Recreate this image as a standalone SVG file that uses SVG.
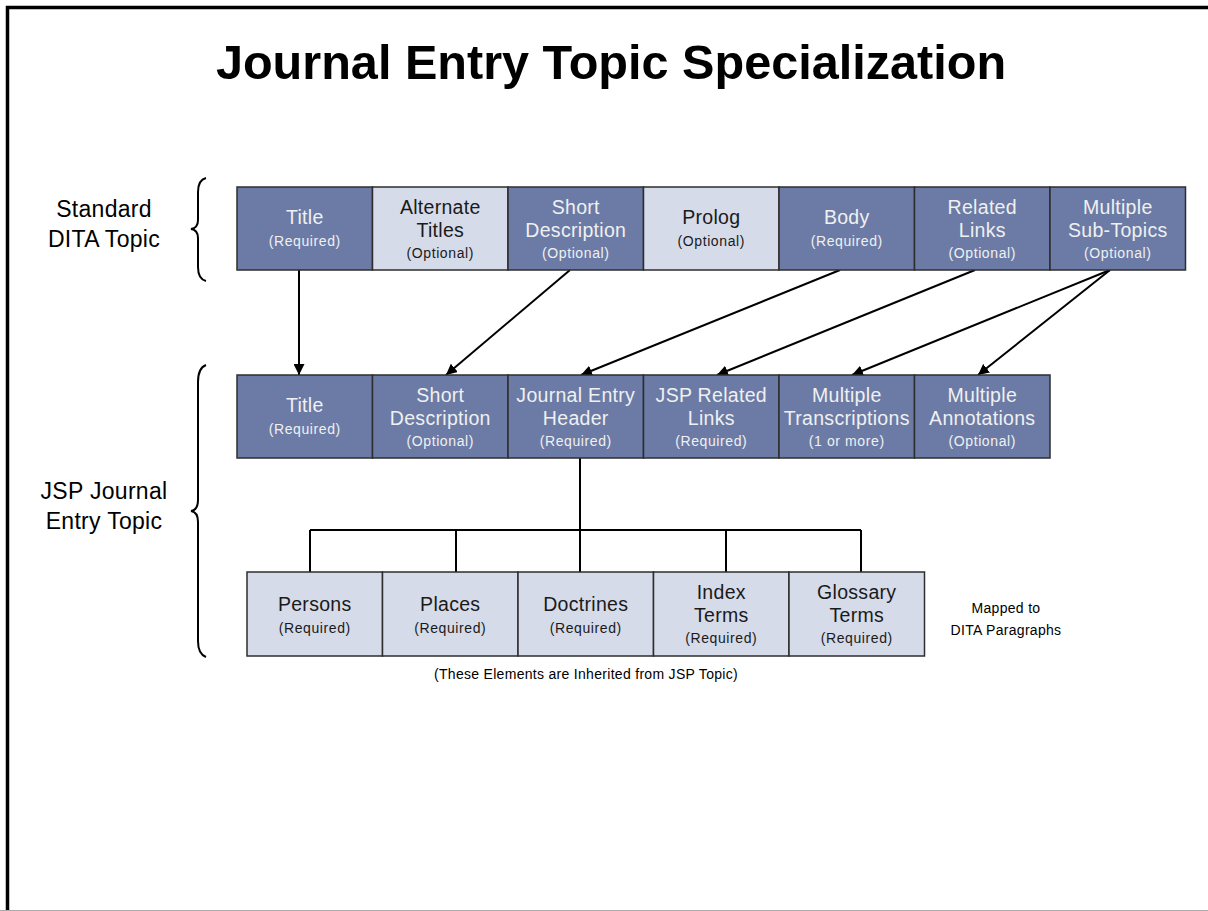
<svg xmlns="http://www.w3.org/2000/svg" width="1208" height="911" viewBox="0 0 1208 911">
  <defs>
    <marker id="arrow" viewBox="0 0 10 10" refX="10" refY="5" markerWidth="5.5" markerHeight="5.5" orient="auto" markerUnits="strokeWidth">
      <path d="M0,0 L10,5 L0,10 z" fill="#000"/>
    </marker>
  </defs>
  <style>
    .dark { fill: #6b7ba6; stroke: #2e2e2e; stroke-width: 1.5; }
    .light { fill: #d6dbe9; stroke: #2e2e2e; stroke-width: 1.5; }
    text { font-family: "Liberation Sans", Arial, sans-serif; text-anchor: middle; }
    .main { font-size: 19.5px; letter-spacing: 0.3px; }
    .sub { font-size: 14px; letter-spacing: 0.6px; }
    .on-dark { fill: #f0f0f0; }
    .on-light { fill: #1a1a1a; }
    .side { font-size: 23px; fill: #000; letter-spacing: 0.3px; }
    .note { font-size: 14px; fill: #000; letter-spacing: 0.3px; }
    .conn { fill: none; stroke: #000; stroke-width: 2; }
    .brace { fill: none; stroke: #000; stroke-width: 2; }
  </style>

  <rect width="1208" height="911" fill="#fff"/>
  <!-- slide frame -->
  <path d="M1212 7.5 H7.5 V912" fill="none" stroke="#000" stroke-width="3.5"/>
  <line x1="0" y1="910.5" x2="1208" y2="910.5" stroke="#aaa" stroke-width="1"/>

  <text x="611" y="79" style="font-size:48.6px;font-weight:bold;fill:#000">Journal Entry Topic Specialization</text>

  <!-- side labels and braces -->
  <g id="label-standard">
    <text class="side" x="104" y="217">Standard</text>
    <text class="side" x="104" y="247">DITA Topic</text>
    <path class="brace" d="M206,178 Q198,180 198,192 L198,220 Q198,228 191,229 Q198,230 198,238 L198,267 Q198,279 206,281"/>
  </g>
  <g id="label-jsp">
    <text class="side" x="104" y="499">JSP Journal</text>
    <text class="side" x="104" y="529">Entry Topic</text>
    <path class="brace" d="M206,365 Q198,368 198,382 L198,500 Q198,510 191,511 Q198,512 198,522 L198,641 Q198,654 206,657"/>
  </g>

  <!-- connectors -->
  <g id="connectors">
    <line class="conn" x1="299" y1="270" x2="299" y2="375" marker-end="url(#arrow)"/>
    <line class="conn" x1="570" y1="270" x2="446" y2="375" marker-end="url(#arrow)"/>
    <line class="conn" x1="840" y1="270" x2="581" y2="375" marker-end="url(#arrow)"/>
    <line class="conn" x1="975" y1="270" x2="717" y2="375" marker-end="url(#arrow)"/>
    <line class="conn" x1="1110" y1="270" x2="852" y2="375" marker-end="url(#arrow)"/>
    <line class="conn" x1="1110" y1="270" x2="978" y2="375" marker-end="url(#arrow)"/>
    <path class="conn" d="M580,458 V530 M310,530 H861 M310,530 V572 M456,530 V572 M580,530 V572 M726,530 V572 M861,530 V572"/>
  </g>

  <!-- Standard DITA Topic row -->
  <g id="std-title">
    <rect class="dark" x="237" y="187" width="135.5" height="83"/>
    <text class="main on-dark" x="304.75" y="224">Title</text>
    <text class="sub on-dark" x="304.75" y="246">(Required)</text>
  </g>
  <g id="std-alt-titles">
    <rect class="light" x="372.5" y="187" width="135.5" height="83"/>
    <text class="main on-light" x="440.25" y="214">Alternate</text>
    <text class="main on-light" x="440.25" y="237">Titles</text>
    <text class="sub on-light" x="440.25" y="258">(Optional)</text>
  </g>
  <g id="std-shortdesc">
    <rect class="dark" x="508" y="187" width="135.5" height="83"/>
    <text class="main on-dark" x="575.75" y="214">Short</text>
    <text class="main on-dark" x="575.75" y="237">Description</text>
    <text class="sub on-dark" x="575.75" y="258">(Optional)</text>
  </g>
  <g id="std-prolog">
    <rect class="light" x="643.5" y="187" width="135.5" height="83"/>
    <text class="main on-light" x="711.25" y="224">Prolog</text>
    <text class="sub on-light" x="711.25" y="246">(Optional)</text>
  </g>
  <g id="std-body">
    <rect class="dark" x="779" y="187" width="135.5" height="83"/>
    <text class="main on-dark" x="846.75" y="224">Body</text>
    <text class="sub on-dark" x="846.75" y="246">(Required)</text>
  </g>
  <g id="std-related">
    <rect class="dark" x="914.5" y="187" width="135.5" height="83"/>
    <text class="main on-dark" x="982.25" y="214">Related</text>
    <text class="main on-dark" x="982.25" y="237">Links</text>
    <text class="sub on-dark" x="982.25" y="258">(Optional)</text>
  </g>
  <g id="std-subtopics">
    <rect class="dark" x="1050" y="187" width="135.5" height="83"/>
    <text class="main on-dark" x="1117.75" y="214">Multiple</text>
    <text class="main on-dark" x="1117.75" y="237">Sub-Topics</text>
    <text class="sub on-dark" x="1117.75" y="258">(Optional)</text>
  </g>

  <!-- JSP Journal Entry Topic row -->
  <g id="jsp-title">
    <rect class="dark" x="237" y="375" width="135.5" height="83"/>
    <text class="main on-dark" x="304.75" y="412">Title</text>
    <text class="sub on-dark" x="304.75" y="434">(Required)</text>
  </g>
  <g id="jsp-shortdesc">
    <rect class="dark" x="372.5" y="375" width="135.5" height="83"/>
    <text class="main on-dark" x="440.25" y="402">Short</text>
    <text class="main on-dark" x="440.25" y="425">Description</text>
    <text class="sub on-dark" x="440.25" y="446">(Optional)</text>
  </g>
  <g id="jsp-header">
    <rect class="dark" x="508" y="375" width="135.5" height="83"/>
    <text class="main on-dark" x="575.75" y="402">Journal Entry</text>
    <text class="main on-dark" x="575.75" y="425">Header</text>
    <text class="sub on-dark" x="575.75" y="446">(Required)</text>
  </g>
  <g id="jsp-related">
    <rect class="dark" x="643.5" y="375" width="135.5" height="83"/>
    <text class="main on-dark" x="711.25" y="402">JSP Related</text>
    <text class="main on-dark" x="711.25" y="425">Links</text>
    <text class="sub on-dark" x="711.25" y="446">(Required)</text>
  </g>
  <g id="jsp-transcriptions">
    <rect class="dark" x="779" y="375" width="135.5" height="83"/>
    <text class="main on-dark" x="846.75" y="402">Multiple</text>
    <text class="main on-dark" x="846.75" y="425">Transcriptions</text>
    <text class="sub on-dark" x="846.75" y="446">(1 or more)</text>
  </g>
  <g id="jsp-annotations">
    <rect class="dark" x="914.5" y="375" width="135.5" height="83"/>
    <text class="main on-dark" x="982.25" y="402">Multiple</text>
    <text class="main on-dark" x="982.25" y="425">Annotations</text>
    <text class="sub on-dark" x="982.25" y="446">(Optional)</text>
  </g>

  <!-- inherited paragraph elements -->
  <g id="para-persons">
    <rect class="light" x="247" y="572" width="135.5" height="84"/>
    <text class="main on-light" x="314.75" y="611">Persons</text>
    <text class="sub on-light" x="314.75" y="633">(Required)</text>
  </g>
  <g id="para-places">
    <rect class="light" x="382.5" y="572" width="135.5" height="84"/>
    <text class="main on-light" x="450.25" y="611">Places</text>
    <text class="sub on-light" x="450.25" y="633">(Required)</text>
  </g>
  <g id="para-doctrines">
    <rect class="light" x="518" y="572" width="135.5" height="84"/>
    <text class="main on-light" x="585.75" y="611">Doctrines</text>
    <text class="sub on-light" x="585.75" y="633">(Required)</text>
  </g>
  <g id="para-index">
    <rect class="light" x="653.5" y="572" width="135.5" height="84"/>
    <text class="main on-light" x="721.25" y="599">Index</text>
    <text class="main on-light" x="721.25" y="622">Terms</text>
    <text class="sub on-light" x="721.25" y="643">(Required)</text>
  </g>
  <g id="para-glossary">
    <rect class="light" x="789" y="572" width="135.5" height="84"/>
    <text class="main on-light" x="856.75" y="599">Glossary</text>
    <text class="main on-light" x="856.75" y="622">Terms</text>
    <text class="sub on-light" x="856.75" y="643">(Required)</text>
  </g>

  <g id="notes">
    <text class="note" x="1006" y="613">Mapped to</text>
    <text class="note" x="1006" y="635">DITA Paragraphs</text>
    <text class="note" x="586" y="679">(These Elements are Inherited from JSP Topic)</text>
  </g>
</svg>
